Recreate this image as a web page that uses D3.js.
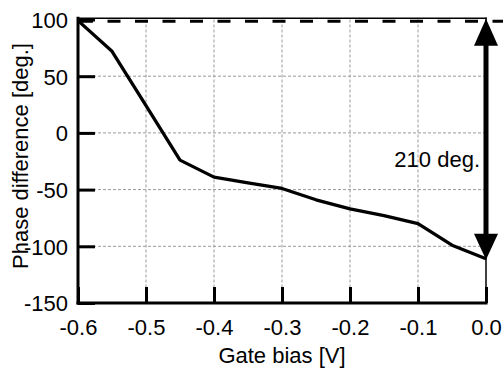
<!DOCTYPE html>
<html>
<head>
<meta charset="utf-8">
<script src="https://cdn.jsdelivr.net/npm/d3@7"></script>
<style>
  html, body { margin: 0; padding: 0; background: #fff; }
  svg text { font-family: "Liberation Sans", Arial, Helvetica, sans-serif; fill: #000; }
</style>
</head>
<body>
<div id="chart"></div>
<script>
// ---------------------------------------------
// DATA
// ---------------------------------------------
const gateBias   = [-0.6, -0.55, -0.5, -0.45, -0.4, -0.35, -0.3, -0.25, -0.2, -0.15, -0.1, -0.05, 0.0];
const phaseDiff  = [99, 72, 24, -24, -39, -44, -49, -59, -67, -73, -80, -99, -111];
const xTicks     = [-0.6, -0.5, -0.4, -0.3, -0.2, -0.1, 0.0];
const yTicks     = [100, 50, 0, -50, -100, -150];
const xGrid      = [-0.5, -0.4, -0.3, -0.2, -0.1];
const yGrid      = [50, 0, -50, -100];
const annotation = "210 deg.";
const xTitle     = "Gate bias [V]";
const yTitle     = "Phase difference [deg.]";

(() => {
  const W = 503, H = 369;
  const fontSize = 22;

  const svg = d3.select("#chart").append("svg")
    .attr("width", W)
    .attr("height", H);

  // ---------------------------------------------
  // SCALES
  // ---------------------------------------------
  const x = d3.scaleLinear().domain([-0.6, 0]).range([78, 486]);
  const y = d3.scaleLinear().domain([-150, 100]).range([303, 19.5]);

  const x0 = x.range()[0], x1 = x.range()[1];
  const yBot = y(-150), yTop = y(100);

  // ---------------------------------------------
  // GRID
  // ---------------------------------------------
  const grid = svg.append("g")
    .attr("stroke", "#999")
    .attr("stroke-width", 1)
    .attr("stroke-dasharray", "3,2");

  grid.selectAll(".gx").data(xGrid).enter().append("line")
    .attr("x1", d => x(d)).attr("x2", d => x(d))
    .attr("y1", yTop).attr("y2", yBot);

  grid.selectAll(".gy").data(yGrid).enter().append("line")
    .attr("x1", x0).attr("x2", x1)
    .attr("y1", d => y(d)).attr("y2", d => y(d));

  // ---------------------------------------------
  // AXES (inward ticks)
  // ---------------------------------------------
  const xAxis = d3.axisBottom(x)
    .tickValues(xTicks)
    .tickSize(-16)
    .tickPadding(16)
    .tickFormat(d => d.toFixed(1));

  const gx = svg.append("g")
    .attr("transform", `translate(0,${yBot})`)
    .call(xAxis);
  gx.select(".domain").remove();
  gx.selectAll(".tick line").attr("stroke", "#000").attr("stroke-width", 3);
  gx.selectAll("text").attr("font-size", fontSize);

  const yAxis = d3.axisLeft(y)
    .tickValues(yTicks)
    .tickSize(-17)
    .tickPadding(10)
    .tickFormat(d => String(d));

  const gy = svg.append("g")
    .attr("transform", `translate(${x0},0)`)
    .call(yAxis);
  gy.select(".domain").remove();
  gy.selectAll(".tick line").attr("stroke", "#000").attr("stroke-width", 3);
  gy.selectAll("text").attr("font-size", fontSize).attr("dy", "0.36em");

  // ---------------------------------------------
  // FRAME
  // ---------------------------------------------
  const fTop = yTop - 1.2;
  const frame = svg.append("g").attr("stroke", "#000").attr("stroke-linecap", "square");
  frame.append("line").attr("x1", x0).attr("x2", x1).attr("y1", fTop).attr("y2", fTop).attr("stroke-width", 1.5);
  frame.append("line").attr("x1", x1).attr("x2", x1).attr("y1", fTop).attr("y2", yBot).attr("stroke-width", 1.5);
  frame.append("line").attr("x1", x0).attr("x2", x0).attr("y1", fTop).attr("y2", yBot).attr("stroke-width", 3);
  frame.append("line").attr("x1", x0).attr("x2", x1).attr("y1", yBot).attr("y2", yBot).attr("stroke-width", 3);

  // dashed reference at starting phase
  svg.append("line")
    .attr("x1", x0).attr("x2", W)
    .attr("y1", y(phaseDiff[0]) + 0.5).attr("y2", y(phaseDiff[0]) + 0.5)
    .attr("stroke", "#000")
    .attr("stroke-width", 3)
    .attr("stroke-dasharray", "13,14.5")
    .attr("stroke-dashoffset", -2);

  // ---------------------------------------------
  // CURVE
  // ---------------------------------------------
  const line = d3.line()
    .x((d, i) => x(gateBias[i]))
    .y(d => y(d));

  svg.append("path")
    .datum(phaseDiff)
    .attr("d", line)
    .attr("fill", "none")
    .attr("stroke", "#000")
    .attr("stroke-width", 3.3)
    .attr("stroke-linejoin", "round");

  // ---------------------------------------------
  // DOUBLE ARROW
  // ---------------------------------------------
  const ax = x(0);
  const aTop = y(phaseDiff[0]);
  const aBot = y(phaseDiff[phaseDiff.length - 1]);
  const headW = 12, headH = 25;

  svg.append("line")
    .attr("x1", ax).attr("x2", ax)
    .attr("y1", aTop + headH - 2).attr("y2", aBot - headH + 2)
    .attr("stroke", "#000")
    .attr("stroke-width", 5);

  svg.append("path")
    .attr("d", `M${ax},${aTop - 2}L${ax + headW},${aTop + headH}L${ax - headW},${aTop + headH}Z`)
    .attr("fill", "#000");

  svg.append("path")
    .attr("d", `M${ax},${aBot + 1}L${ax + headW},${aBot - headH}L${ax - headW},${aBot - headH}Z`)
    .attr("fill", "#000");

  svg.append("text")
    .attr("x", ax - 6)
    .attr("y", y(-30))
    .attr("text-anchor", "end")
    .attr("font-size", fontSize)
    .text(annotation);

  // ---------------------------------------------
  // TITLES
  // ---------------------------------------------
  svg.append("text")
    .attr("x", (x0 + x1) / 2)
    .attr("y", 363)
    .attr("text-anchor", "middle")
    .attr("font-size", fontSize)
    .text(xTitle);

  svg.append("text")
    .attr("transform", `translate(28,156) rotate(-90)`)
    .attr("text-anchor", "middle")
    .attr("font-size", fontSize)
    .text(yTitle);
})();
</script>
</body>
</html>
